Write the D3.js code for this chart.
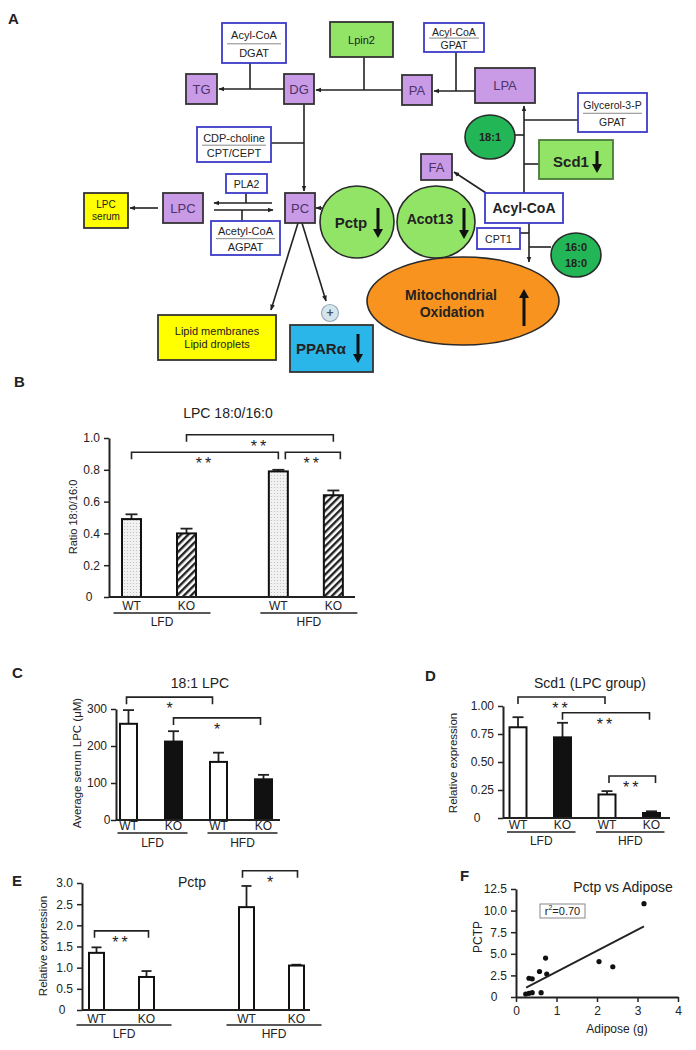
<!DOCTYPE html>
<html>
<head>
<meta charset="utf-8">
<script src="https://cdn.jsdelivr.net/npm/d3@7"></script>
<style>
	body { margin: 0; background: #fff; }
	text { font-family: "Liberation Sans", Arial, sans-serif; fill: #222; }
</style>
</head>
<body>
<svg id="fig" width="696" height="1050"></svg>
<script>
// ---- chart values ----
const DIETS = ["LFD", "HFD"];
const GENOS = ["WT", "KO"];

// B: LPC 18:0/16:0
const ratioMean = [0.49, 0.40, 0.79, 0.64];
const ratioErr = [0.03, 0.03, 0.01, 0.03];
const ratioTicks = [0, 0.2, 0.4, 0.6, 0.8, 1.0];
const ratioSig = [
	{ a: 1, b: 3, v: 1.02, s: "**" },
	{ a: 0, b: 2, v: 0.91, s: "**" },
	{ a: 2, b: 3, v: 0.91, s: "**" },
];

// C: 18:1 LPC
const lpcMean = [260, 212, 157, 110];
const lpcErr = [37, 28, 25, 12];
const lpcTicks = [0, 100, 200, 300];
const lpcSig = [
	{ a: 0, b: 2, v: 332, s: "*" },
	{ a: 1, b: 3, v: 276, s: "*" },
];

// D: Scd1 (LPC group)
const scdMean = [0.81, 0.72, 0.21, 0.045];
const scdErr = [0.09, 0.13, 0.03, 0.015];
const scdTicks = [0, 0.25, 0.5, 0.75, 1.0];
const scdSig = [
	{ a: 0, b: 2, v: 1.08, s: "**" },
	{ a: 1, b: 3, v: 0.94, s: "**" },
	{ a: 2, b: 3, v: 0.375, s: "**" },
];

// E: Pctp
const pctpMean = [1.35, 0.78, 2.43, 1.05];
const pctpErr = [0.13, 0.14, 0.5, 0.02];
const pctpTicks = [0, 0.5, 1.0, 1.5, 2.0, 2.5, 3.0];
const pctpSig = [
	{ a: 0, b: 1, v: 1.87, s: "**" },
	{ a: 2, b: 3, v: 3.29, s: "*" },
];

// F: Pctp vs Adipose
const adipose = [3.16, 0.73, 2.05, 2.39, 0.58, 0.76, 0.32, 0.40, 0.24, 0.32, 0.40, 0.62];
const pctpExpr = [10.8, 4.5, 4.1, 3.5, 2.95, 2.65, 2.17, 2.1, 0.35, 0.43, 0.5, 0.5];
const fitLine = [[0.25, 1.08], [3.16, 8.17]];
const scatterXTicks = [0, 1, 2, 3, 4];
const scatterYTicks = [0, 2.5, 5, 7.5, 10, 12.5];

// ---- setup ----
const svg = d3.select("#fig");
const defs = svg.append("defs");
defs.append("marker")
	.attr("id", "arr")
	.attr("viewBox", "0 0 10 10")
	.attr("refX", 9)
	.attr("refY", 5)
	.attr("markerUnits", "userSpaceOnUse")
	.attr("markerWidth", 6)
	.attr("markerHeight", 6)
	.attr("orient", "auto")
	.append("path")
	.attr("d", "M0,1L10,5L0,9Z")
	.attr("fill", "#222");

const dots = defs.append("pattern")
	.attr("id", "dots")
	.attr("patternUnits", "userSpaceOnUse")
	.attr("width", 3)
	.attr("height", 3);
dots.append("rect").attr("width", 3).attr("height", 3).attr("fill", "#f2f2f2");
dots.append("circle").attr("cx", 1.5).attr("cy", 1.5).attr("r", 0.6).attr("fill", "#bbb");

const hatch = defs.append("pattern")
	.attr("id", "hatch")
	.attr("patternUnits", "userSpaceOnUse")
	.attr("width", 5)
	.attr("height", 5)
	.attr("patternTransform", "rotate(45)");
hatch.append("rect").attr("width", 5).attr("height", 5).attr("fill", "#fff");
hatch.append("rect").attr("x", 0).attr("width", 2.4).attr("height", 5).attr("fill", "#222");

function addText(g, x, y, str, size, weight, anchor) {
	return g.append("text")
		.attr("x", x)
		.attr("y", y)
		.attr("font-size", size)
		.attr("font-weight", weight || "normal")
		.attr("text-anchor", anchor || "middle")
		.attr("dominant-baseline", "central")
		.text(str);
}

// panel letters
[["A", 8, 18], ["B", 14, 381], ["C", 12, 672], ["D", 425, 675], ["E", 12, 880], ["F", 460, 875]].forEach(([l, x, y]) =>
	addText(svg, x, y, l, 15, "bold", "start")
);

// ---- panel A: pathway diagram ----
const dia = svg.append("g");
const PURPLE = "#c99ae6";
const LIGHTGREEN = "#92e467";
const DARKGREEN = "#23b656";
const ENZ = "#3b3bc8";

const links = [
	[[250, 63], [250, 89]],
	[[284, 89], [219, 89], true],
	[[364, 57], [364, 90]],
	[[402, 90], [316, 90], true],
	[[456, 52], [456, 91]],
	[[475, 91], [434, 91], true],
	[[304, 104], [304, 191], true],
	[[271, 143], [304, 143]],
	[[158, 208], [130, 208], true],
	[[246, 193], [246, 203]],
	[[272, 203], [214, 203], true],
	[[242, 210], [242, 221]],
	[[214, 210], [273, 210], true],
	[[322, 208], [316, 208], true],
	[[298, 223], [271, 310], true],
	[[302, 223], [326, 301], true],
	[[486, 193], [454, 172], true],
	[[524, 193], [524, 106], true],
	[[524, 120], [578, 120]],
	[[515, 135], [524, 135]],
	[[524, 164], [539, 164]],
	[[529, 223], [529, 262], true],
	[[520, 233], [529, 233]],
	[[529, 247], [551, 247]],
];
links.forEach(([p, q, arrow]) => {
	dia.append("line")
		.attr("x1", p[0]).attr("y1", p[1])
		.attr("x2", q[0]).attr("y2", q[1])
		.attr("stroke", "#222")
		.attr("stroke-width", 1.6)
		.attr("marker-end", arrow ? "url(#arr)" : null);
});

// ellipses
const blobs = [
	{ cx: 463, cy: 301, rx: 96, ry: 44, fill: "#f7931e" },
	{ cx: 357, cy: 222, rx: 37, ry: 36, fill: LIGHTGREEN },
	{ cx: 436, cy: 222, rx: 39, ry: 36, fill: LIGHTGREEN },
	{ cx: 490, cy: 137, rx: 25, ry: 22, fill: DARKGREEN },
	{ cx: 576, cy: 255, rx: 25, ry: 22, fill: DARKGREEN },
];
blobs.forEach((b) => {
	dia.append("ellipse")
		.attr("cx", b.cx).attr("cy", b.cy).attr("rx", b.rx).attr("ry", b.ry)
		.attr("fill", b.fill)
		.attr("stroke", "#2a2a2a")
		.attr("stroke-width", 1.6);
});

// coloured boxes
const boxes = [
	{ t: ["TG"], x: 186, y: 74, w: 31, h: 30, fill: PURPLE },
	{ t: ["DG"], x: 284, y: 74, w: 30, h: 30, fill: PURPLE },
	{ t: ["PA"], x: 402, y: 75, w: 30, h: 30, fill: PURPLE },
	{ t: ["LPA"], x: 475, y: 68, w: 60, h: 35, fill: PURPLE },
	{ t: ["FA"], x: 421, y: 154, w: 31, h: 26, fill: PURPLE },
	{ t: ["LPC"], x: 163, y: 193, w: 40, h: 30, fill: PURPLE },
	{ t: ["PC"], x: 285, y: 193, w: 30, h: 30, fill: PURPLE },
	{ t: ["Lpin2"], x: 330, y: 22, w: 63, h: 35, fill: LIGHTGREEN, size: 11 },
	{ t: ["LPC", "serum"], x: 84, y: 193, w: 44, h: 35, fill: "#ffff00", size: 10 },
	{ t: ["Lipid membranes", "Lipid droplets"], x: 158, y: 315, w: 118, h: 45, fill: "#ffff00", size: 11 },
];
boxes.forEach((b) => {
	dia.append("rect")
		.attr("x", b.x).attr("y", b.y).attr("width", b.w).attr("height", b.h)
		.attr("fill", b.fill)
		.attr("stroke", "#333")
		.attr("stroke-width", 1.8);
	const size = b.size || 13;
	const n = b.t.length;
	b.t.forEach((s, i) => {
		const t = addText(dia, b.x + b.w / 2, b.y + b.h / 2 + (i - (n - 1) / 2) * size * 1.2, s, size);
		if (b.fill === PURPLE) t.style("fill", "#4a3468");
	});
});

// enzyme boxes (white, blue border)
const enzymes = [
	{ t: ["Acyl-CoA", "DGAT"], x: 222, y: 23, w: 64, h: 40, size: 11 },
	{ t: ["Acyl-CoA", "GPAT"], x: 424, y: 23, w: 60, h: 29, size: 10.5 },
	{ t: ["Glycerol-3-P", "GPAT"], x: 578, y: 93, w: 69, h: 39, size: 10.5 },
	{ t: ["CDP-choline", "CPT/CEPT"], x: 197, y: 127, w: 74, h: 35, size: 11 },
	{ t: ["Acetyl-CoA", "AGPAT"], x: 211, y: 221, w: 69, h: 34, size: 11 },
	{ t: ["PLA2"], x: 226, y: 174, w: 41, h: 19, size: 10.5 },
	{ t: ["CPT1"], x: 477, y: 228, w: 43, h: 21, size: 10.5 },
	{ t: ["Acyl-CoA"], x: 485, y: 193, w: 78, h: 30, size: 14, bold: true },
];
enzymes.forEach((e) => {
	dia.append("rect")
		.attr("x", e.x).attr("y", e.y).attr("width", e.w).attr("height", e.h)
		.attr("fill", "#fff")
		.attr("stroke", ENZ)
		.attr("stroke-width", 1.8);
	if (e.t.length === 2) {
		addText(dia, e.x + e.w / 2, e.y + e.h * 0.3, e.t[0], e.size);
		dia.append("line")
			.attr("x1", e.x + 5).attr("x2", e.x + e.w - 5)
			.attr("y1", e.y + e.h * 0.52).attr("y2", e.y + e.h * 0.52)
			.attr("stroke", "#888").attr("stroke-width", 1);
		addText(dia, e.x + e.w / 2, e.y + e.h * 0.75, e.t[1], e.size);
	} else {
		addText(dia, e.x + e.w / 2, e.y + e.h / 2, e.t[0], e.size, e.bold ? "bold" : "normal");
	}
});

// PPAR alpha box
dia.append("rect")
	.attr("x", 290).attr("y", 325).attr("width", 83).attr("height", 47)
	.attr("fill", "#2bb6ea").attr("stroke", "#333").attr("stroke-width", 1.8);
addText(dia, 321, 348, "PPARα", 15, "bold");

// plus sign
dia.append("circle").attr("cx", 330).attr("cy", 313).attr("r", 8.5)
	.attr("fill", "#d4e6ec").attr("stroke", "#9ab").attr("stroke-width", 1.2);
addText(dia, 330, 313, "+", 12, "bold").style("fill", "#456");

// labels inside circles
addText(dia, 351, 222, "Pctp", 15, "bold");
addText(dia, 430, 219, "Acot13", 14, "bold");
addText(dia, 490, 137, "18:1", 11, "bold");
addText(dia, 576, 247, "16:0", 11, "bold");
addText(dia, 576, 263, "18:0", 11, "bold");
addText(dia, 451, 295, "Mitochondrial", 14, "bold");
addText(dia, 452, 312, "Oxidation", 14, "bold");

// Scd1 box
dia.append("rect")
	.attr("x", 539).attr("y", 140).attr("width", 74).attr("height", 39)
	.attr("fill", LIGHTGREEN).attr("stroke", "#4a7a3a").attr("stroke-width", 1.8);
addText(dia, 571, 161, "Scd1", 15, "bold");

// up / down arrows
function bigArrow(x, y1, y2) {
	const dir = y2 > y1 ? 1 : -1;
	dia.append("line")
		.attr("x1", x).attr("x2", x)
		.attr("y1", y1).attr("y2", y2 - dir * 8)
		.attr("stroke", "#111").attr("stroke-width", 3);
	dia.append("path")
		.attr("d", `M${x - 5},${y2 - dir * 9}L${x + 5},${y2 - dir * 9}L${x},${y2}Z`)
		.attr("fill", "#111");
}
bigArrow(597, 151, 173);
bigArrow(378, 208, 238);
bigArrow(464, 208, 239);
bigArrow(524, 326, 289);
bigArrow(358, 334, 363);

// ---- bar panels ----
function barPanel(cfg) {
	const g = svg.append("g");
	const y = d3.scaleLinear().domain([0, cfg.yMax]).range([cfg.y0, cfg.yTop]);
	const lastSlot = cfg.slots[cfg.slots.length - 1];
	const x = d3.scaleLinear().domain([0, lastSlot]).range([cfg.c0, cfg.c0 + cfg.step * lastSlot]);
	const rows = cfg.means.map((m, i) => ({ m, e: cfg.errs[i], slot: cfg.slots[i], i }));

	addText(g, cfg.title[0], cfg.title[1], cfg.title[2], 14);

	// error bars
	g.selectAll("line.err").data(rows).join("line")
		.attr("x1", (d) => x(d.slot)).attr("x2", (d) => x(d.slot))
		.attr("y1", (d) => y(d.m)).attr("y2", (d) => y(d.m + d.e))
		.attr("stroke", "#222").attr("stroke-width", 1.8);
	g.selectAll("line.cap").data(rows).join("line")
		.attr("x1", (d) => x(d.slot) - cfg.capW / 2).attr("x2", (d) => x(d.slot) + cfg.capW / 2)
		.attr("y1", (d) => y(d.m + d.e)).attr("y2", (d) => y(d.m + d.e))
		.attr("stroke", "#222").attr("stroke-width", 1.8);

	g.selectAll("rect.bar").data(rows).join("rect")
		.attr("x", (d) => x(d.slot) - cfg.barW / 2)
		.attr("y", (d) => y(d.m))
		.attr("width", cfg.barW)
		.attr("height", (d) => cfg.y0 - y(d.m))
		.attr("fill", (d) => cfg.fills[d.i % 2])
		.attr("stroke", "#111")
		.attr("stroke-width", 2);

	// y axis
	const axis = d3.axisLeft(y)
		.tickValues(cfg.ticks)
		.tickSize(5)
		.tickSizeOuter(0)
		.tickPadding(4)
		.tickFormat((v) => (v === 0 ? "0" : d3.format(cfg.fmt)(v)));
	const ag = g.append("g").attr("transform", `translate(${cfg.x0},0)`).call(axis);
	ag.select(".domain").attr("stroke", "#222").attr("stroke-width", 2);
	ag.selectAll(".tick line").attr("stroke", "#222").attr("stroke-width", 1.5);
	ag.selectAll(".tick text")
		.attr("font-size", 12)
		.attr("font-family", "Liberation Sans, Arial, sans-serif")
		.attr("fill", "#222");
	ag.selectAll(".tick text").filter((v) => v === 0).attr("x", -cfg.zeroX).attr("text-anchor", "middle");

	// baseline
	g.append("line")
		.attr("x1", cfg.x0).attr("x2", cfg.xEnd)
		.attr("y1", cfg.y0).attr("y2", cfg.y0)
		.attr("stroke", "#222").attr("stroke-width", 2);

	// y label
	g.append("text")
		.attr("transform", `translate(${cfg.yLab[0]},${cfg.yLab[1]}) rotate(-90)`)
		.attr("text-anchor", "middle")
		.attr("dominant-baseline", "central")
		.attr("font-size", cfg.yLabSize)
		.text(cfg.yLab[2]);

	// genotype and diet labels
	rows.forEach((d) => {
		g.append("text")
			.attr("x", x(d.slot)).attr("y", cfg.y0 + cfg.genoDy)
			.attr("text-anchor", "middle").attr("font-size", 12)
			.text(GENOS[d.i % 2]);
	});
	DIETS.forEach((diet, k) => {
		const xa = x(cfg.slots[2 * k]) - cfg.groupPad[0];
		const xb = x(cfg.slots[2 * k + 1]) + cfg.groupPad[1];
		g.append("line")
			.attr("x1", xa).attr("x2", xb)
			.attr("y1", cfg.y0 + cfg.lineDy).attr("y2", cfg.y0 + cfg.lineDy)
			.attr("stroke", "#222").attr("stroke-width", 1.6);
		g.append("text")
			.attr("x", (xa + xb) / 2).attr("y", cfg.y0 + cfg.dietDy)
			.attr("text-anchor", "middle").attr("font-size", 12)
			.text(diet);
	});

	// significance brackets
	cfg.sig.forEach((s, k) => {
		const off = (cfg.sigOff && cfg.sigOff[k]) || [0, 0];
		const xa = x(cfg.slots[s.a]) + off[0];
		const xb = x(cfg.slots[s.b]) + off[1];
		const yv = y(s.v);
		g.append("path")
			.attr("d", `M${xa},${yv + 7}V${yv}H${xb}V${yv + 7}`)
			.attr("fill", "none").attr("stroke", "#222").attr("stroke-width", 1.6);
		g.append("text")
			.attr("x", (xa + xb) / 2).attr("y", yv + 17)
			.attr("text-anchor", "middle").attr("font-size", 16)
			.attr("letter-spacing", s.s.length > 1 ? 3 : 0)
			.text(s.s);
	});
}

barPanel({
	means: ratioMean, errs: ratioErr, ticks: ratioTicks, sig: ratioSig, fmt: ".1f",
	yMax: 1.0, y0: 597, yTop: 438, x0: 109, xEnd: 355,
	slots: [0, 1, 2.67, 3.67], c0: 131.5, step: 55, barW: 19, capW: 12,
	fills: ["url(#dots)", "url(#hatch)"],
	title: [228, 413, "LPC 18:0/16:0"],
	yLab: [73, 517, "Ratio 18:0/16:0"], yLabSize: 11,
	zeroX: 20, genoDy: 13, lineDy: 16, dietDy: 29, groupPad: [18, 24],
	sigOff: [[0, 0], [0, 0], [7, 7]],
});

barPanel({
	means: lpcMean, errs: lpcErr, ticks: lpcTicks, sig: lpcSig, fmt: "d",
	yMax: 300, y0: 820, yTop: 709, x0: 116, xEnd: 280,
	slots: [0, 1, 2, 3], c0: 128.5, step: 45, barW: 17, capW: 11,
	fills: ["#fff", "#111"],
	title: [200, 683, "18:1 LPC"],
	yLab: [77, 763, "Average serum LPC (μM)"], yLabSize: 11.5,
	zeroX: 9, genoDy: 10, lineDy: 13, dietDy: 27, groupPad: [11, 14],
	sigOff: [[-2, -6], [0, -3]],
});

barPanel({
	means: scdMean, errs: scdErr, ticks: scdTicks, sig: scdSig, fmt: ".2f",
	yMax: 1.0, y0: 818, yTop: 706, x0: 503, xEnd: 670,
	slots: [0, 1, 2, 3], c0: 518, step: 44.5, barW: 17, capW: 11,
	fills: ["#fff", "#111"],
	title: [590, 683, "Scd1 (LPC group)"],
	yLab: [453, 763, "Relative expression"], yLabSize: 11.5,
	zeroX: 26, genoDy: 11, lineDy: 14, dietDy: 27, groupPad: [11, 13],
	sigOff: [[0, -2], [0, -2], [2, 4]],
});

barPanel({
	means: pctpMean, errs: pctpErr, ticks: pctpTicks, sig: pctpSig, fmt: ".1f",
	yMax: 3.0, y0: 1010, yTop: 883, x0: 82, xEnd: 310,
	slots: [0, 1, 3, 4], c0: 96.5, step: 50, barW: 15, capW: 10,
	fills: ["#fff", "#fff"],
	title: [192, 882, "Pctp"],
	yLab: [43, 946, "Relative expression"], yLabSize: 11.5,
	zeroX: 20, genoDy: 13, lineDy: 15, dietDy: 28, groupPad: [20, 25],
	sigOff: [[-2, 2], [-4, 1]],
});

// ---- panel F: scatter ----
(function scatterPanel() {
	const g = svg.append("g");
	const x = d3.scaleLinear().domain([0, 4]).range([516, 678]);
	const y = d3.scaleLinear().domain([0, 12.5]).range([997, 889]);

	const ya = g.append("g").attr("transform", "translate(516,0)")
		.call(d3.axisLeft(y).tickValues(scatterYTicks).tickSize(5).tickSizeOuter(0).tickPadding(4)
			.tickFormat((v) => (v === 0 ? "0" : d3.format(".1f")(v))));
	const xa = g.append("g").attr("transform", "translate(0,997)")
		.call(d3.axisBottom(x).tickValues(scatterXTicks).tickSize(5).tickSizeOuter(0).tickPadding(4)
			.tickFormat(d3.format("d")));
	[ya, xa].forEach((a) => {
		a.select(".domain").attr("stroke", "#222").attr("stroke-width", 2);
		a.selectAll(".tick line").attr("stroke", "#222").attr("stroke-width", 1.5);
		a.selectAll(".tick text").attr("font-size", 12)
			.attr("font-family", "Liberation Sans, Arial, sans-serif").attr("fill", "#222");
	});
	ya.selectAll(".tick text").filter((v) => v === 0).attr("x", -22).attr("text-anchor", "middle");

	const pts = adipose.map((a, i) => ({ a, p: pctpExpr[i] }));
	g.selectAll("circle.pt").data(pts).join("circle")
		.attr("cx", (d) => x(d.a)).attr("cy", (d) => y(d.p)).attr("r", 2.6).attr("fill", "#111");

	g.append("line")
		.attr("x1", x(fitLine[0][0])).attr("y1", y(fitLine[0][1]))
		.attr("x2", x(fitLine[1][0])).attr("y2", y(fitLine[1][1]))
		.attr("stroke", "#222").attr("stroke-width", 1.8);

	addText(g, 623, 887, "Pctp vs Adipose", 14);
	addText(g, 617, 1029, "Adipose (g)", 12);
	g.append("text")
		.attr("transform", "translate(478,937) rotate(-90)")
		.attr("text-anchor", "middle").attr("dominant-baseline", "central")
		.attr("font-size", 12).text("PCTP");

	g.append("rect").attr("x", 540).attr("y", 904).attr("width", 45).attr("height", 14)
		.attr("fill", "#fff").attr("stroke", "#888").attr("stroke-width", 1);
	const rt = g.append("text").attr("x", 562.5).attr("y", 911)
		.attr("text-anchor", "middle").attr("dominant-baseline", "central").attr("font-size", 11);
	rt.append("tspan").text("r");
	rt.append("tspan").attr("font-size", 7).attr("dy", -4).text("2");
	rt.append("tspan").attr("dy", 4).text("=0.70");
})();
</script>
</body>
</html>
